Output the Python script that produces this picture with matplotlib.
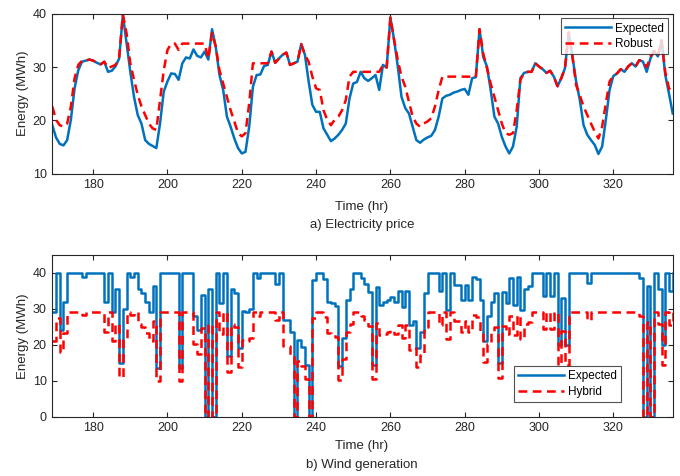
import numpy as np
import matplotlib
matplotlib.use("Agg")
import matplotlib.pyplot as plt

plt.rcParams['font.family'] = ['Liberation Sans', 'DejaVu Sans']

# hours of the second week
hours = np.arange(169, 337)

# a) electricity price, expected case
price_expected = [
    19.1, 16.8, 15.6, 15.3, 16.3, 20.1, 26.0, 29.4, 31.0, 31.2,   # 169-178
    31.4, 31.2, 30.8, 30.5, 31.0, 29.1, 29.3, 30.1, 31.6, 39.8,   # 179-188
    34.4, 29.1, 24.4, 21.0, 19.4, 16.3, 15.6, 15.2, 14.8, 19.4,   # 189-198
    25.4, 27.3, 28.8, 28.7, 27.6, 30.7, 31.8, 31.6, 33.3, 32.1,   # 199-208
    31.8, 32.9, 31.4, 37.1, 33.8, 28.5, 25.7, 20.7, 18.8, 16.6,   # 209-218
    14.8, 13.8, 14.1, 18.8, 26.3, 28.5, 28.6, 30.2, 30.4, 32.9,   # 219-228
    30.8, 31.6, 32.3, 32.7, 30.4, 30.7, 31.0, 34.3, 32.3, 27.3,   # 229-238
    22.9, 21.6, 21.6, 18.5, 17.3, 16.1, 16.6, 17.3, 18.2, 19.4,   # 239-248
    24.1, 26.9, 27.2, 29.1, 27.9, 27.4, 27.9, 28.5, 25.7, 30.4,   # 249-258
    29.9, 39.3, 35.1, 30.1, 24.4, 22.3, 21.3, 18.8, 16.3, 15.8,   # 259-268
    16.4, 16.8, 17.1, 18.2, 20.7, 24.1, 24.6, 24.8, 25.2, 25.4,   # 269-278
    25.7, 25.9, 24.8, 27.9, 28.1, 37.1, 31.9, 30.1, 25.7, 20.7,   # 279-288
    19.4, 16.9, 15.1, 13.8, 15.1, 18.8, 27.9, 28.9, 29.1, 29.1,   # 289-298
    30.7, 30.1, 29.6, 28.9, 29.3, 28.2, 26.4, 27.9, 29.8, 36.5,   # 299-308
    32.0, 27.3, 23.8, 19.1, 17.3, 16.3, 15.4, 13.7, 15.1, 20.1,   # 309-318
    25.7, 28.3, 28.8, 29.6, 29.1, 30.1, 30.7, 30.1, 31.3, 31.0,   # 319-328
    29.1, 31.6, 33.0, 32.0, 35.0, 28.5, 25.0, 21.3,               # 329-336
]

# a) electricity price, robust case
price_robust = [
    22.6, 20.1, 19.1, 18.8, 19.4, 22.6, 27.9, 30.4, 31.2, 31.2,   # 169-178
    31.4, 31.2, 30.8, 30.5, 31.0, 29.8, 30.1, 30.4, 31.9, 39.8,   # 179-188
    36.3, 30.7, 27.6, 24.8, 22.6, 21.0, 19.4, 18.5, 18.2, 23.8,   # 189-198
    29.4, 33.2, 34.4, 34.4, 33.2, 34.4, 34.4, 34.4, 34.4, 34.4,   # 199-208
    34.4, 34.4, 31.6, 36.4, 33.8, 29.4, 26.9, 24.4, 21.9, 19.8,   # 209-218
    17.6, 17.0, 17.6, 23.2, 30.7, 30.7, 30.7, 30.7, 30.7, 32.9,   # 219-228
    30.8, 31.6, 32.3, 32.7, 30.4, 30.7, 31.0, 34.3, 32.3, 31.0,   # 229-238
    28.2, 26.0, 25.7, 21.9, 20.1, 19.1, 20.1, 20.7, 21.9, 23.8,   # 239-248
    28.2, 29.1, 29.1, 29.1, 29.1, 29.1, 29.1, 29.1, 29.1, 30.4,   # 249-258
    29.9, 39.3, 35.1, 31.3, 28.2, 26.3, 23.5, 20.7, 19.4, 18.8,   # 259-268
    19.4, 19.8, 20.4, 22.6, 25.7, 28.2, 28.2, 28.2, 28.2, 28.2,   # 269-278
    28.2, 28.2, 28.2, 28.1, 28.1, 37.1, 32.5, 29.8, 26.9, 24.4,   # 279-288
    21.9, 19.4, 17.6, 17.3, 17.6, 21.9, 27.6, 28.9, 29.1, 29.1,   # 289-298
    30.7, 30.1, 29.6, 28.9, 29.3, 28.2, 26.4, 27.9, 29.8, 36.5,   # 299-308
    32.0, 26.6, 24.7, 22.6, 21.0, 19.4, 17.9, 16.6, 18.8, 23.2,   # 309-318
    27.3, 28.3, 28.8, 29.6, 29.1, 30.1, 30.7, 30.1, 31.3, 31.0,   # 319-328
    30.0, 32.0, 33.0, 32.0, 35.0, 29.0, 26.0, 25.4,               # 329-336
]

# b) wind generation, expected case
wind_expected = [
    29, 40, 24, 32, 40, 40, 40, 40, 39, 40,                       # 169-178
    40, 40, 40, 40, 32, 40, 29, 35.5, 15, 30,                     # 179-188
    40, 39, 40, 35.5, 34.5, 32, 29, 36.5, 13.5, 40,               # 189-198
    40, 40, 40, 40, 13.5, 40, 40, 40, 28, 24,                     # 199-208
    34, 0, 35.5, 0, 40, 31.6, 40, 17, 35.5, 34.4,                 # 209-218
    19, 29.5, 29, 30, 40, 38.6, 40, 40, 40, 40,                   # 219-228
    37, 40, 27, 27, 23.7, 0, 21.4, 19.5, 14.4, 0,                 # 229-238
    38, 40, 40, 38.3, 32, 31.6, 30.7, 14, 22, 32.6,               # 239-248
    35.5, 40, 40, 38.6, 37, 34.6, 14.4, 36, 31.2, 31.8,           # 249-258
    32.4, 33.2, 31.8, 35, 30.4, 35, 25.6, 26.5, 19.1, 23.7,       # 259-268
    34.4, 40, 40, 40, 35, 40, 29.8, 40, 36.7, 36.7,               # 269-278
    32.6, 36.7, 32.6, 39, 38.3, 32.6, 21, 28, 32, 34.4,           # 279-288
    15, 34.6, 31.6, 38.6, 31.2, 39, 29.8, 35.5, 36.3, 40,         # 289-298
    40, 40, 33.5, 40, 33.5, 40, 20, 33, 20, 40,                   # 299-308
    40, 40, 40, 40, 37.2, 40, 40, 40, 40, 40,                     # 309-318
    40, 40, 40, 40, 40, 40, 40, 40, 38.6, 0,                      # 319-328
    36.3, 0, 40, 35.5, 20, 40, 35, 40,                            # 329-336
]

# b) wind generation, hybrid case
wind_hybrid = [
    21, 27.5, 18, 23.4, 29, 29, 29, 29, 28.3, 29,                 # 169-178
    29, 29, 29, 29, 23.5, 29, 21, 25.7, 11, 21.7,                 # 179-188
    29, 28.3, 29, 25.7, 25, 23.2, 21, 26.5, 9.8, 29,              # 189-198
    29, 29, 29, 29, 9.8, 29, 29, 29, 20.3, 17.4,                  # 199-208
    24.7, 0, 25.7, 0, 29, 22.9, 29, 12.3, 25.7, 24.9,             # 209-218
    13.8, 21.4, 21, 21.8, 29, 28, 29, 29, 29, 29,                 # 219-228
    26.8, 29, 19.6, 19.6, 17.2, 0, 15.5, 14.1, 10.4, 0,           # 229-238
    27.6, 29, 29, 27.8, 23.2, 22.9, 22.3, 10.2, 16, 23.6,         # 239-248
    25.7, 29, 29, 28, 26.8, 25.1, 10.4, 26.1, 22.6, 23.1,         # 249-258
    23.5, 24.1, 23.1, 25.4, 22, 25.4, 18.6, 19.2, 13.8, 17.2,     # 259-268
    24.9, 29, 29, 29, 25.4, 29, 21.6, 29, 26.6, 26.6,             # 269-278
    23.6, 26.6, 23.6, 28.3, 27.8, 23.6, 15.2, 20.3, 23.2, 24.9,   # 279-288
    10.9, 25.1, 22.9, 28, 22.6, 28.3, 21.6, 25.7, 26.3, 29,       # 289-298
    29, 29, 24.3, 29, 24.3, 29, 14.5, 23.9, 14.5, 29,             # 299-308
    29, 29, 29, 29, 27, 29, 29, 29, 29, 29,                       # 309-318
    29, 29, 29, 29, 29, 29, 29, 29, 28, 0,                        # 319-328
    26.3, 0, 29, 25.7, 14.5, 29, 25.4, 29,                        # 329-336
]

blue = "#0072BD"
red = "#FF0000"
axis_col = "#262626"

fig = plt.figure(figsize=(6.8, 4.76), dpi=100)
ax1 = fig.add_axes([0.0769, 0.6351, 0.9124, 0.3361])
ax2 = fig.add_axes([0.0769, 0.1246, 0.9124, 0.3397])


def style_axes(ax):  # matlab look: box on, ticks inside on every side
    ax.tick_params(direction="in", top=True, right=True, labelsize=9,
                   colors=axis_col, length=3.5, width=0.8, pad=4)
    for s in ax.spines.values():
        s.set_color(axis_col)
        s.set_linewidth(0.8)
    ax.set_xlim(169, 336)
    ax.set_xticks(np.arange(180, 321, 20))
    ax.set_ylabel("Energy (MWh)", fontsize=9.5, color=axis_col, labelpad=3)


# top panel
ax1.plot(hours, price_expected, color=blue, lw=1.8, label="Expected")
ax1.plot(hours, price_robust, color=red, lw=1.8, ls=(0, (3.5, 2.2)), label="Robust")
style_axes(ax1)
ax1.set_ylim(10, 40)
ax1.set_yticks([10, 20, 30, 40])
leg1 = ax1.legend(loc="upper right", fontsize=8.5, frameon=True, fancybox=False,
                  edgecolor=axis_col, handlelength=3.9, borderpad=0.35,
                  labelspacing=0.3, handletextpad=0.3, borderaxespad=0.4)
leg1.get_frame().set_linewidth(0.8)

# bottom panel
ax2.step(hours, wind_expected, where="post", color=blue, lw=1.8, label="Expected")
ax2.step(hours, wind_hybrid, where="post", color=red, lw=1.8, ls=(0, (3.5, 2.2)), label="Hybrid")
style_axes(ax2)
ax2.set_ylim(0, 45)
ax2.set_yticks([0, 10, 20, 30, 40])
leg2 = ax2.legend(loc="lower left", bbox_to_anchor=(0.744, 0.09), fontsize=8.5,
                  frameon=True, fancybox=False, edgecolor=axis_col,
                  handlelength=3.9, borderpad=0.35, labelspacing=0.3,
                  handletextpad=0.3, borderaxespad=0)
leg2.get_frame().set_linewidth(0.8)

# x labels and captions
fig.text(0.532, 0.565, "Time (hr)", ha="center", va="center", fontsize=9.5, color=axis_col)
fig.text(0.532, 0.527, "a) Electricity price", ha="center", va="center", fontsize=9.5, color=axis_col)
fig.text(0.532, 0.062, "Time (hr)", ha="center", va="center", fontsize=9.5, color=axis_col)
fig.text(0.532, 0.023, "b) Wind generation", ha="center", va="center", fontsize=9.5, color=axis_col)

fig.savefig("out.png", dpi=100)
plt.close()
